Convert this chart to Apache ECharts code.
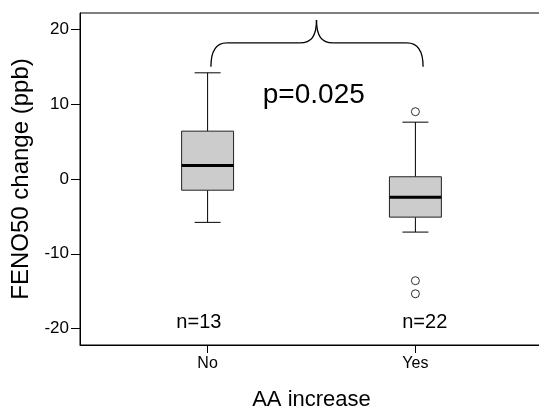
<!DOCTYPE html>
<html>
<head>
<meta charset="utf-8">
<script src="https://cdn.jsdelivr.net/npm/echarts@6/dist/echarts.min.js"></script>
<style>
  html, body { margin: 0; padding: 0; background: #fff; }
  #chart { width: 539px; height: 409px; }
</style>
</head>
<body>
<div id="chart"></div>
<script>
// Groups on the x axis (placed at 1 and 2 on a numeric axis)
const categories = ['No', 'Yes'];
const groupPos = [1, 2];

// Five-number summaries per group: [lower whisker, Q1, median, Q3, upper whisker]
const boxNo = [-5.8, -1.5, 1.8, 6.4, 14.2];
const boxYes = [-7.1, -5.1, -2.45, 0.3, 7.6];

// Outlying observations: [group position, value]
const outliers = [[2, 9.0], [2, -13.6], [2, -15.35]];

// Sample sizes per group
const sampleLabels = ['n=13', 'n=22'];

// Group comparison result
const pLabel = 'p=0.025';

// Y axis tick values
const yTicks = [-20, -10, 0, 10, 20];

const FONT = '"Liberation Sans", Arial, Helvetica, sans-serif';

const chart = echarts.init(document.getElementById('chart'), null, { renderer: 'canvas' });

const boxData = [
  [groupPos[0]].concat(boxNo),
  [groupPos[1]].concat(boxYes)
];

function renderBox(params, api) {
  const x = api.value(0);
  const lo = api.value(1), q1 = api.value(2), med = api.value(3), q3 = api.value(4), hi = api.value(5);
  const halfBox = 0.125, halfCap = 0.0625;
  const pTopL = api.coord([x - halfBox, q3]);
  const pBotR = api.coord([x + halfBox, q1]);
  const cHi = api.coord([x, hi]);
  const cLo = api.coord([x, lo]);
  const capL = api.coord([x - halfCap, 0])[0];
  const capR = api.coord([x + halfCap, 0])[0];
  const medL = api.coord([x - halfBox, med]);
  const medR = api.coord([x + halfBox, med]);
  const lineStyle = { stroke: '#000', lineWidth: 1, fill: null };
  return {
    type: 'group',
    children: [
      { type: 'line', shape: { x1: cHi[0], y1: cHi[1], x2: cHi[0], y2: pTopL[1] }, style: lineStyle },
      { type: 'line', shape: { x1: cLo[0], y1: pBotR[1], x2: cLo[0], y2: cLo[1] }, style: lineStyle },
      { type: 'line', shape: { x1: capL, y1: cHi[1], x2: capR, y2: cHi[1] }, style: lineStyle },
      { type: 'line', shape: { x1: capL, y1: cLo[1], x2: capR, y2: cLo[1] }, style: lineStyle },
      {
        type: 'rect',
        shape: { x: pTopL[0], y: pTopL[1], width: pBotR[0] - pTopL[0], height: pBotR[1] - pTopL[1] },
        style: { fill: '#cccccc', stroke: '#222', lineWidth: 1 }
      },
      { type: 'line', shape: { x1: medL[0], y1: medL[1], x2: medR[0], y2: medR[1] }, style: { stroke: '#000', lineWidth: 3 } }
    ]
  };
}

// Curly brace spanning both groups, defined in data units
const brace = { x0: 1.016, x1: 2.037, mid: 1.524, yEnd: 15.0, yBar: 18.2, yPeak: 21.25 };

function renderBrace(params, api) {
  const c = (x, y) => api.coord([x, y]);
  const st = { stroke: '#000', lineWidth: 1.3, fill: null };
  const a = c(brace.x0, brace.yEnd);
  const aCp = c(brace.x0, brace.yBar);
  const b = c(brace.x0 + 0.076, brace.yBar);
  const m0 = c(brace.mid - 0.08, brace.yBar);
  const m0c = c(brace.mid - 0.025, brace.yBar);
  const pk = c(brace.mid, brace.yPeak);
  const pkc = c(brace.mid, brace.yBar + 0.9);
  const m1 = c(brace.mid + 0.08, brace.yBar);
  const m1c = c(brace.mid + 0.025, brace.yBar);
  const e = c(brace.x1 - 0.078, brace.yBar);
  const f = c(brace.x1, brace.yEnd);
  const fCp = c(brace.x1, brace.yBar);
  return {
    type: 'group',
    children: [
      { type: 'bezierCurve', shape: { x1: a[0], y1: a[1], cpx1: aCp[0], cpy1: aCp[1], x2: b[0], y2: b[1] }, style: st },
      { type: 'line', shape: { x1: b[0], y1: b[1], x2: m0[0], y2: m0[1] }, style: st },
      { type: 'bezierCurve', shape: { x1: m0[0], y1: m0[1], cpx1: m0c[0], cpy1: m0c[1], cpx2: pkc[0], cpy2: pkc[1], x2: pk[0], y2: pk[1] }, style: st },
      { type: 'bezierCurve', shape: { x1: pk[0], y1: pk[1], cpx1: pkc[0], cpy1: pkc[1], cpx2: m1c[0], cpy2: m1c[1], x2: m1[0], y2: m1[1] }, style: st },
      { type: 'line', shape: { x1: m1[0], y1: m1[1], x2: e[0], y2: e[1] }, style: st },
      { type: 'bezierCurve', shape: { x1: e[0], y1: e[1], cpx1: fCp[0], cpy1: fCp[1], x2: f[0], y2: f[1] }, style: st }
    ]
  };
}

// Anchor points for the text annotations, in data units
const sampleAnchors = [[0.958, -19.2], [2.045, -19.2]];
const pAnchor = [1.511, 11.2];

function renderText(params, api) {
  const p = api.coord([api.value(0), api.value(1)]);
  const isP = params.seriesName === 'pvalue';
  return {
    type: 'text',
    x: p[0], y: p[1],
    style: {
      text: isP ? pLabel : sampleLabels[params.dataIndex],
      fill: '#000',
      font: (isP ? '28px ' : '20px ') + FONT,
      align: 'center',
      verticalAlign: 'middle'
    }
  };
}

chart.setOption({
  animation: false,
  backgroundColor: '#fff',
  grid: {
    left: 80, right: -4, top: 13, bottom: 64,
    outerBoundsMode: 'none',
    containLabel: false,
    show: true, borderColor: '#000', borderWidth: 1, backgroundColor: 'transparent'
  },
  xAxis: {
    type: 'value',
    min: 0.386, max: 2.614,
    name: 'AA increase',
    nameLocation: 'middle',
    nameGap: 44,
    nameTextStyle: { fontFamily: FONT, fontSize: 22, color: '#000' },
    splitLine: { show: false },
    axisLine: { show: true, onZero: false, lineStyle: { color: '#000', width: 1 } },
    axisTick: { show: true, length: 8, lineStyle: { color: '#000' }, customValues: groupPos },
    axisLabel: {
      customValues: groupPos,
      formatter: v => categories[groupPos.indexOf(v)] || '',
      fontFamily: FONT, fontSize: 16, color: '#000', margin: 11
    }
  },
  yAxis: {
    type: 'value',
    min: -22.2, max: 22.2,
    name: 'FENO50 change (ppb)',
    nameLocation: 'middle',
    nameGap: 46,
    nameTextStyle: { fontFamily: FONT, fontSize: 24, color: '#000' },
    splitLine: { show: false },
    axisLine: { show: true, onZero: false, lineStyle: { color: '#000', width: 1 } },
    axisTick: { show: true, length: 9, lineStyle: { color: '#000' }, customValues: yTicks },
    axisLabel: {
      customValues: yTicks,
      fontFamily: FONT, fontSize: 17, color: '#000', margin: 11
    }
  },
  series: [
    {
      name: 'boxes',
      type: 'custom',
      renderItem: renderBox,
      encode: { x: 0, y: [1, 2, 3, 4, 5] },
      data: boxData,
      z: 2
    },
    {
      name: 'outliers',
      type: 'scatter',
      data: outliers,
      symbol: 'circle',
      symbolSize: 8,
      itemStyle: { color: '#fff', borderColor: '#000', borderWidth: 1 },
      z: 3
    },
    {
      name: 'brace',
      type: 'custom',
      renderItem: renderBrace,
      data: [[brace.mid, brace.yPeak]],
      clip: false,
      z: 3
    },
    {
      name: 'samples',
      type: 'custom',
      renderItem: renderText,
      data: sampleAnchors,
      z: 3
    },
    {
      name: 'pvalue',
      type: 'custom',
      renderItem: renderText,
      data: [pAnchor],
      z: 3
    }
  ]
});
</script>
</body>
</html>
